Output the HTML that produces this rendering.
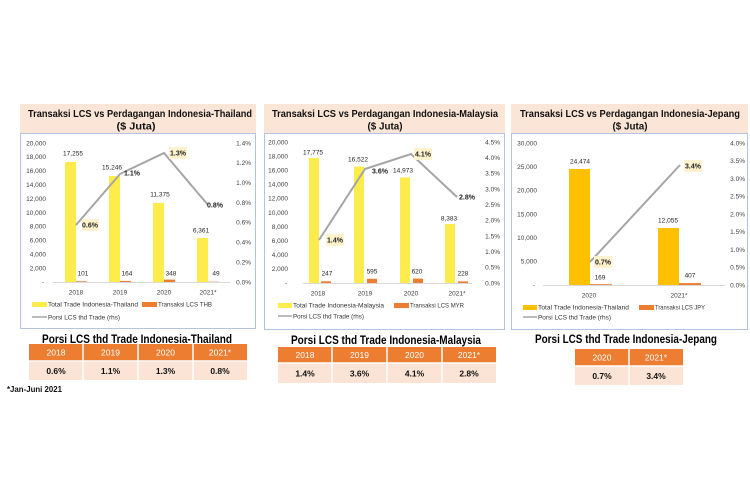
<!DOCTYPE html>
<html><head><meta charset="utf-8"><style>
html,body{margin:0;padding:0;background:#fff;}
svg{display:block;}
text{font-family:"Liberation Sans",Arial,sans-serif;}
.ax{font-size:6.5px;fill:#404040;}
.dl{font-size:6.5px;fill:#262626;}
.ll{font-size:7px;fill:#222;font-weight:600;}
.lg{font-size:6.3px;fill:#333;}
.tt{font-size:10.5px;font-weight:bold;fill:#111;}
.tb{font-size:11.5px;font-weight:bold;fill:#000;}
.th{font-size:8.5px;fill:#fff;}
.td{font-size:8.5px;font-weight:bold;fill:#111;}
</style></head><body>
<svg width="750" height="500" viewBox="0 0 750 500" xmlns="http://www.w3.org/2000/svg">
<rect width="750" height="500" fill="#fff"/>

<!-- ================= PANEL 1 ================= -->
<rect x="20.5" y="133.5" width="235" height="195" fill="#fff" stroke="#b4c3df" stroke-width="1"/>
<rect x="20" y="104" width="236" height="29" fill="#fbe5d6"/>
<text class="tt" x="28" y="117" textLength="224" lengthAdjust="spacingAndGlyphs">Transaksi LCS vs Perdagangan  Indonesia-Thailand</text>
<text class="tt" x="136" y="129.5" text-anchor="middle" textLength="39" lengthAdjust="spacingAndGlyphs">($ Juta)</text>
<g class="ax" text-anchor="end">
<text x="46" y="145.3">20,000</text><text x="46" y="159.2">18,000</text><text x="46" y="173.1">16,000</text>
<text x="46" y="187.0">14,000</text><text x="46" y="200.9">12,000</text><text x="46" y="214.8">10,000</text>
<text x="46" y="228.7">8,000</text><text x="46" y="242.6">6,000</text><text x="46" y="256.5">4,000</text>
<text x="46" y="270.4">2,000</text><text x="44" y="284.3">-</text>
</g>
<g class="ax" text-anchor="end">
<text x="251" y="145.3">1.4%</text><text x="251" y="165.2">1.2%</text><text x="251" y="185.0">1.0%</text>
<text x="251" y="204.9">0.8%</text><text x="251" y="224.7">0.6%</text><text x="251" y="244.6">0.4%</text>
<text x="251" y="264.4">0.2%</text><text x="251" y="284.3">0.0%</text>
</g>
<line x1="53" y1="282.5" x2="230" y2="282.5" stroke="#d9d9d9" stroke-width="1"/>
<g fill="#fdec4c">
<rect x="65" y="162" width="11" height="120"/><rect x="109" y="176" width="11" height="106"/>
<rect x="153" y="203" width="11" height="79"/><rect x="197" y="238" width="11" height="44"/>
</g>
<g fill="#ed7d31">
<rect x="76" y="281.3" width="11" height="0.7"/><rect x="120" y="280.9" width="11" height="1.1"/>
<rect x="164" y="279.6" width="11" height="2.4"/><rect x="208" y="281.7" width="11" height="0.3"/>
</g>
<polyline points="76,225 120,174 164,153 208,205" fill="none" stroke="#a5a5a5" stroke-width="2"/>
<g class="dl" text-anchor="middle">
<text x="73" y="155.3">17,255</text><text x="112" y="169.3">15,246</text><text x="160" y="196.3">11,375</text><text x="201" y="232.3">6,361</text>
<text x="83" y="275.3">101</text><text x="127" y="275.3">164</text><text x="171" y="275.3">348</text><text x="216" y="275.3">49</text>
</g>
<rect x="82" y="219" width="17" height="12" fill="#fff2cc"/>
<rect x="169" y="147" width="18" height="12" fill="#fff2cc"/>
<g class="ll" text-anchor="middle">
<text x="90" y="227.5">0.6%</text><text x="132" y="175.5">1.1%</text><text x="178" y="155.5">1.3%</text><text x="215" y="207.5">0.8%</text>
</g>
<g class="ax" text-anchor="middle">
<text x="76" y="294.5">2018</text><text x="120" y="294.5">2019</text><text x="164" y="294.5">2020</text><text x="208" y="294.5">2021*</text>
</g>
<rect x="32" y="302" width="15" height="5" fill="#fdec4c"/>
<text class="lg" x="48" y="306.5" textLength="90" lengthAdjust="spacingAndGlyphs">Total Trade Indonesia-Thailand</text>
<rect x="142" y="302" width="15" height="5" fill="#ed7d31"/>
<text class="lg" x="158" y="306.5" textLength="54" lengthAdjust="spacingAndGlyphs">Transaksi LCS THB</text>
<line x1="32" y1="317" x2="47" y2="317" stroke="#a5a5a5" stroke-width="1.5"/>
<text class="lg" x="48" y="319.5" textLength="72" lengthAdjust="spacingAndGlyphs">Porsi LCS thd Trade (rhs)</text>

<text class="tb" x="137" y="343" text-anchor="middle" textLength="190" lengthAdjust="spacingAndGlyphs">Porsi LCS thd Trade Indonesia-Thailand</text>
<rect x="29" y="344" width="218" height="17" fill="#ed7d31"/>
<rect x="29" y="361" width="218" height="19" fill="#fbe4d5"/>
<g stroke="#fff" stroke-width="1.5"><line x1="83" y1="344" x2="83" y2="380"/><line x1="138" y1="344" x2="138" y2="380"/><line x1="193" y1="344" x2="193" y2="380"/><line x1="29" y1="361" x2="247" y2="361"/></g>
<g class="th" text-anchor="middle"><text x="56" y="355.5">2018</text><text x="110.5" y="355.5">2019</text><text x="165.5" y="355.5">2020</text><text x="220" y="355.5">2021*</text></g>
<g class="td" text-anchor="middle"><text x="56" y="374">0.6%</text><text x="110.5" y="374">1.1%</text><text x="165.5" y="374">1.3%</text><text x="220" y="374">0.8%</text></g>
<text x="7" y="392" style="font-size:8px;font-weight:bold;fill:#111" textLength="55" lengthAdjust="spacingAndGlyphs">*Jan-Juni 2021</text>

<!-- ================= PANEL 2 ================= -->
<rect x="264.5" y="133.5" width="240" height="196" fill="#fff" stroke="#b4c3df" stroke-width="1"/>
<rect x="264" y="104" width="241" height="29" fill="#fbe5d6"/>
<text class="tt" x="272" y="117" textLength="226" lengthAdjust="spacingAndGlyphs">Transaksi LCS vs Perdagangan  Indonesia-Malaysia</text>
<text class="tt" x="385" y="129.5" text-anchor="middle" textLength="35" lengthAdjust="spacingAndGlyphs">($ Juta)</text>
<g class="ax" text-anchor="end">
<text x="288" y="144.3">20,000</text><text x="288" y="158.4">18,000</text><text x="288" y="172.5">16,000</text>
<text x="288" y="186.6">14,000</text><text x="288" y="200.7">12,000</text><text x="288" y="214.8">10,000</text>
<text x="288" y="228.9">8,000</text><text x="288" y="243.0">6,000</text><text x="288" y="257.1">4,000</text>
<text x="288" y="271.2">2,000</text><text x="287" y="285.3">-</text>
</g>
<g class="ax" text-anchor="end">
<text x="500" y="144.3">4.5%</text><text x="500" y="159.9">4.0%</text><text x="500" y="175.6">3.5%</text>
<text x="500" y="191.3">3.0%</text><text x="500" y="206.9">2.5%</text><text x="500" y="222.6">2.0%</text>
<text x="500" y="238.3">1.5%</text><text x="500" y="253.9">1.0%</text><text x="500" y="269.6">0.5%</text>
<text x="500" y="285.3">0.0%</text>
</g>
<line x1="303" y1="283.5" x2="472" y2="283.5" stroke="#d9d9d9" stroke-width="1"/>
<g fill="#fdec4c">
<rect x="309" y="158" width="10" height="125"/><rect x="354" y="166.5" width="10" height="116.5"/>
<rect x="400" y="177.4" width="10" height="105.6"/><rect x="445" y="224" width="10" height="59"/>
</g>
<g fill="#ed7d31">
<rect x="321" y="281.3" width="10" height="1.7"/><rect x="367" y="278.8" width="10" height="4.2"/>
<rect x="413" y="278.6" width="10" height="4.4"/><rect x="458" y="281.4" width="10" height="1.6"/>
</g>
<polyline points="319,240 365,169 411,154 457,197" fill="none" stroke="#a5a5a5" stroke-width="2"/>
<g class="dl" text-anchor="middle">
<text x="313" y="154.3">17,775</text><text x="358" y="161.3">16,522</text><text x="403" y="172.3">14,973</text><text x="449" y="220.3">8,383</text>
<text x="327" y="275.3">247</text><text x="372" y="273.3">595</text><text x="417" y="273.3">620</text><text x="463" y="275.3">228</text>
</g>
<rect x="326" y="234" width="18" height="12" fill="#fff2cc"/>
<rect x="414" y="148" width="18" height="12" fill="#fff2cc"/>
<g class="ll" text-anchor="middle">
<text x="335" y="242.5">1.4%</text><text x="380" y="173.5">3.6%</text><text x="423" y="156.5">4.1%</text><text x="467" y="199.5">2.8%</text>
</g>
<g class="ax" text-anchor="middle">
<text x="318" y="295.5">2018</text><text x="365" y="295.5">2019</text><text x="411" y="295.5">2020</text><text x="457" y="295.5">2021*</text>
</g>
<rect x="278" y="303" width="14" height="5" fill="#fdec4c"/>
<text class="lg" x="293" y="307.5" textLength="91" lengthAdjust="spacingAndGlyphs">Total Trade Indonesia-Malaysia</text>
<rect x="394" y="303" width="15" height="5" fill="#ed7d31"/>
<text class="lg" x="410" y="307.5" textLength="54" lengthAdjust="spacingAndGlyphs">Transaksi LCS MYR</text>
<line x1="278" y1="316" x2="292" y2="316" stroke="#a5a5a5" stroke-width="1.5"/>
<text class="lg" x="293" y="318.5" textLength="71" lengthAdjust="spacingAndGlyphs">Porsi LCS thd Trade (rhs)</text>

<text class="tb" x="386" y="344" text-anchor="middle" textLength="190" lengthAdjust="spacingAndGlyphs">Porsi LCS thd Trade Indonesia-Malaysia</text>
<rect x="278" y="347" width="218" height="16" fill="#ed7d31"/>
<rect x="278" y="363" width="218" height="20" fill="#fbe4d5"/>
<g stroke="#fff" stroke-width="1.5"><line x1="332" y1="347" x2="332" y2="383"/><line x1="387" y1="347" x2="387" y2="383"/><line x1="442" y1="347" x2="442" y2="383"/><line x1="278" y1="363" x2="496" y2="363"/></g>
<g class="th" text-anchor="middle"><text x="305" y="358">2018</text><text x="359.5" y="358">2019</text><text x="414.5" y="358">2020</text><text x="469" y="358">2021*</text></g>
<g class="td" text-anchor="middle"><text x="305" y="376.5">1.4%</text><text x="359.5" y="376.5">3.6%</text><text x="414.5" y="376.5">4.1%</text><text x="469" y="376.5">2.8%</text></g>

<!-- ================= PANEL 3 ================= -->
<rect x="511.5" y="133.5" width="236" height="196" fill="#fff" stroke="#b4c3df" stroke-width="1"/>
<rect x="511" y="104" width="237" height="29" fill="#fbe5d6"/>
<text class="tt" x="520" y="117" textLength="220" lengthAdjust="spacingAndGlyphs">Transaksi LCS vs Perdagangan  Indonesia-Jepang</text>
<text class="tt" x="630" y="129.5" text-anchor="middle" textLength="35" lengthAdjust="spacingAndGlyphs">($ Juta)</text>
<g class="ax" text-anchor="end">
<text x="537" y="145.3">30,000</text><text x="537" y="169.0">25,000</text><text x="537" y="192.6">20,000</text>
<text x="537" y="216.3">15,000</text><text x="537" y="240.0">10,000</text><text x="537" y="263.6">5,000</text>
<text x="535" y="287.3">-</text>
</g>
<g class="ax" text-anchor="end">
<text x="745" y="145.3">4.0%</text><text x="745" y="163.1">3.5%</text><text x="745" y="180.8">3.0%</text>
<text x="745" y="198.6">2.5%</text><text x="745" y="216.3">2.0%</text><text x="745" y="234.1">1.5%</text>
<text x="745" y="251.8">1.0%</text><text x="745" y="269.6">0.5%</text><text x="745" y="287.3">0.0%</text>
</g>
<line x1="543" y1="285.5" x2="725" y2="285.5" stroke="#d9d9d9" stroke-width="1"/>
<g fill="#ffc000">
<rect x="569" y="169" width="21" height="116"/><rect x="658" y="228" width="21" height="57"/>
</g>
<g fill="#ed7d31">
<rect x="590" y="284.2" width="22" height="0.8"/><rect x="679" y="283.1" width="22" height="1.9"/>
</g>
<polyline points="590,262 680,165" fill="none" stroke="#a5a5a5" stroke-width="2"/>
<g class="dl" text-anchor="middle">
<text x="580" y="163.3">24,474</text><text x="668" y="222.3">12,055</text>
<text x="600" y="279.3">169</text><text x="690" y="277.3">407</text>
</g>
<rect x="594" y="256" width="18" height="12" fill="#fff2cc"/>
<rect x="684" y="160" width="18" height="12" fill="#fff2cc"/>
<g class="ll" text-anchor="middle">
<text x="603" y="264.5">0.7%</text><text x="693" y="168.5">3.4%</text>
</g>
<g class="ax" text-anchor="middle">
<text x="589" y="297.5">2020</text><text x="679" y="297.5">2021*</text>
</g>
<rect x="523" y="305" width="14" height="5" fill="#ffc000"/>
<text class="lg" x="538" y="309.5" textLength="91" lengthAdjust="spacingAndGlyphs">Total Trade Indonesia-Thailand</text>
<rect x="639" y="305" width="15" height="5" fill="#ed7d31"/>
<text class="lg" x="655" y="309.5" textLength="50" lengthAdjust="spacingAndGlyphs">Transaksi LCS JPY</text>
<line x1="523" y1="317" x2="537" y2="317" stroke="#a5a5a5" stroke-width="1.5"/>
<text class="lg" x="538" y="319.5" textLength="73" lengthAdjust="spacingAndGlyphs">Porsi LCS thd Trade (rhs)</text>

<text class="tb" x="626" y="343" text-anchor="middle" textLength="182" lengthAdjust="spacingAndGlyphs">Porsi LCS thd Trade Indonesia-Jepang</text>
<rect x="575" y="349" width="108" height="17" fill="#ed7d31"/>
<rect x="575" y="366" width="108" height="19" fill="#fbe4d5"/>
<g stroke="#fff" stroke-width="1.5"><line x1="629" y1="349" x2="629" y2="385"/><line x1="575" y1="366" x2="683" y2="366"/></g>
<g class="th" text-anchor="middle"><text x="602" y="360.5">2020</text><text x="656" y="360.5">2021*</text></g>
<g class="td" text-anchor="middle"><text x="602" y="379">0.7%</text><text x="656" y="379">3.4%</text></g>
</svg>
</body></html>
